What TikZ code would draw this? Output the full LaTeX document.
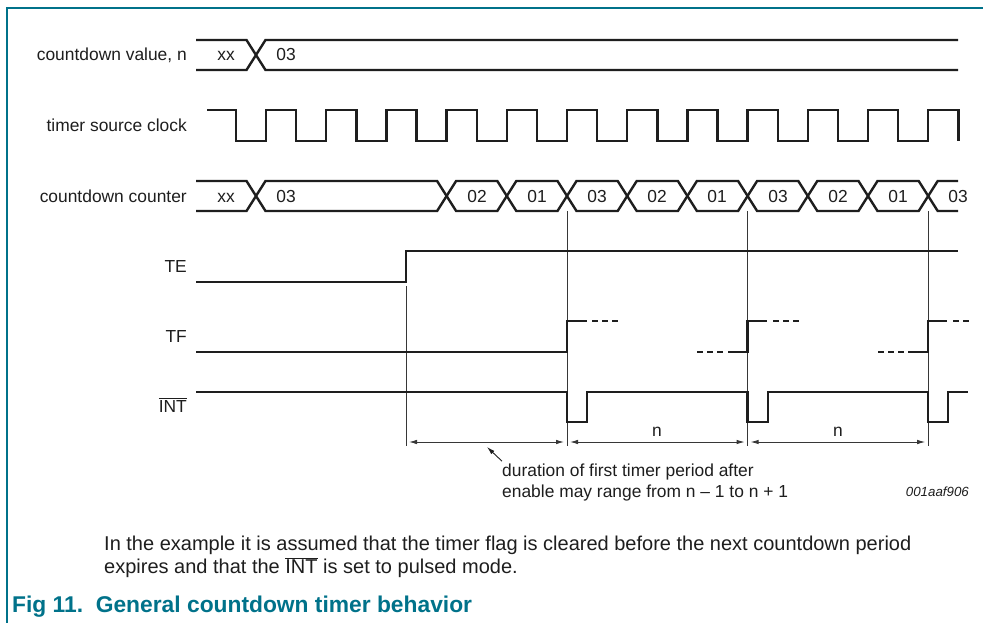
\documentclass[tikz,border=0pt]{standalone}
\usepackage{fontspec}
\setmainfont{Liberation Sans}
\usetikzlibrary{arrows.meta}
\definecolor{nxpteal}{RGB}{0,114,138}
\definecolor{sigcol}{RGB}{30,30,30}
\definecolor{guidecol}{RGB}{55,55,55}
\newcommand{\lblsize}{\fontsize{17.4}{20}\selectfont}
\newcommand{\capsize}{\fontsize{20}{23}\selectfont}
\begin{document}
\begin{tikzpicture}[x=1pt,y=-1pt,
  sig/.style={draw=sigcol,line width=2.4pt,line join=miter},
  guide/.style={draw=guidecol,line width=0.9pt},
  dim/.style={draw=guidecol,line width=0.9pt,{Latex[length=8pt,width=4.5pt]}-{Latex[length=8pt,width=4.5pt]}},
  lbl/.style={anchor=base east,inner sep=0pt,font=\lblsize,text=sigcol},
  val/.style={anchor=base,inner sep=0pt,font=\lblsize,text=sigcol},
  txt/.style={anchor=base west,inner sep=0pt,font=\lblsize,text=sigcol},
  captxt/.style={anchor=base west,inner sep=0pt,font=\capsize,text=sigcol},
  fdash/.style={draw=sigcol,line width=2.4pt,dash pattern=on 6pt off 4pt}]
\useasboundingbox (0,0) rectangle (983,623);
\fill[white] (0,0) rectangle (983,623);
% frame
\draw[nxpteal,line width=1.3pt] (7,623) -- (7,8) -- (983,8);

% labels
\node[lbl] (lv) at (187,61) {countdown value, n};
\node[lbl] (lc) at (187,132) {timer source clock};
\node[lbl] (lk) at (187,202) {countdown counter};
\node[lbl] (lte) at (187,272) {TE};
\node[lbl] (ltf) at (187,342) {TF};
\node[lbl] (lint) at (187,412) {\(\overline{\mbox{INT}}\)};

% countdown value row
\draw[sig] (196,40) -- (246.5,40) -- (265.5,70) -- (958,70);
\draw[sig] (196,70) -- (246.5,70) -- (265.5,40) -- (958,40);
\node[val] (vxx) at (226,61) {xx};
\node[val] (v03) at (286,61) {03};

% clock
\draw[sig] (207,110) foreach \k in {0,...,11} { -- ({236+60.2*\k},110) -- ({236+60.2*\k},141) -- ({266+60.2*\k},141) -- ({266+60.2*\k},110) } -- (958.4,110) -- (958.4,141);

% countdown counter
\draw[sig] (196,181) -- (246.5,181) -- (265.5,211) -- (437.1,211) -- (456.1,181) -- (497.3,181) -- (516.3,211) -- (557.5,211) -- (576.5,181) -- (617.7,181) -- (636.7,211) -- (677.9,211) -- (696.9,181) -- (738.1,181) -- (757.1,211) -- (798.3,211) -- (817.3,181) -- (858.5,181) -- (877.5,211) -- (918.7,211) -- (937.7,181) -- (958,181);
\draw[sig] (196,211) -- (246.5,211) -- (265.5,181) -- (437.1,181) -- (456.1,211) -- (497.3,211) -- (516.3,181) -- (557.5,181) -- (576.5,211) -- (617.7,211) -- (636.7,181) -- (677.9,181) -- (696.9,211) -- (738.1,211) -- (757.1,181) -- (798.3,181) -- (817.3,211) -- (858.5,211) -- (877.5,181) -- (918.7,181) -- (937.7,211) -- (958,211);
\node[val] (kxx) at (226,202) {xx};
\node[val] (k03a) at (286,202) {03};
\node[val] (k02a) at (477,202) {02};
\node[val] (k01a) at (537,202) {01};
\node[val] (k03b) at (597,202) {03};
\node[val] (k02b) at (657,202) {02};
\node[val] (k01b) at (717,202) {01};
\node[val] (k03c) at (778,202) {03};
\node[val] (k02c) at (838,202) {02};
\node[val] (k01c) at (898,202) {01};
\node[val] (k03d) at (958,202) {03};

% guide lines
\draw[guide] (406,286) -- (406,446);
\draw[guide] (567,211) -- (567,446);
\draw[guide] (747.6,211) -- (747.6,446);
\draw[guide] (928.2,211) -- (928.2,446);

% TE
\draw[sig] (196,282) -- (406,282) -- (406,251) -- (958,251);

% TF
\draw[sig] (196,352) -- (567,352) -- (567,321) -- (587,321);
\draw[fdash] (592,321) -- (618,321);
\draw[fdash] (697,352) -- (723,352);
\draw[sig] (728,352) -- (747.6,352) -- (747.6,321) -- (767,321);
\draw[fdash] (773,321) -- (799,321);
\draw[fdash] (878,352) -- (904,352);
\draw[sig] (908,352) -- (928.2,352) -- (928.2,321) -- (947,321);
\draw[fdash] (953,321) -- (970,321);

% INT
\draw[sig] (196,392) -- (567,392) -- (567,422) -- (587,422) -- (587,392) -- (747.6,392) -- (747.6,422) -- (768,422) -- (768,392) -- (928.2,392) -- (928.2,422) -- (948,422) -- (948,392) -- (968,392);

% dimension arrows
\coordinate (d0) at (409,442);
\coordinate (d1a) at (564,442);
\coordinate (d1b) at (570,442);
\coordinate (d2a) at (744.6,442);
\coordinate (d2b) at (750.6,442);
\coordinate (d3) at (925.2,442);
\draw[dim] (d0) -- (d1a);
\draw[dim] (d1b) -- (d2a);
\draw[dim] (d2b) -- (d3);
\node[val] (n1) at (657,436) {n};
\node[val] (n2) at (838,436) {n};

% pointer note
\node[txt] (note1) at (502,476) {duration of first timer period after};
\node[txt] (note2) at (502,497) {enable may range from n -- 1 to n + 1};
\coordinate (ptip) at (487,447);
\draw[draw=sigcol,line width=0.9pt,-{Latex[length=8pt,width=4.5pt]}] (note1.north west) ++(0,-2) coordinate (pstart) (pstart) -- (ptip);
\node[anchor=base east,inner sep=0pt,font=\fontsize{13.3}{15}\selectfont\itshape,text=sigcol] (fid) at (969,496) {001aaf906};

% caption
\node[captxt] (cap1) at (104,550) {In the example it is assumed that the timer flag is cleared before the next countdown period};
\node[captxt] (cap2) at (104,573) {expires and that the \(\overline{\mbox{INT}}\) is set to pulsed mode.};
\node[anchor=base west,inner sep=0pt,font=\fontsize{22.8}{26}\selectfont\bfseries,text=nxpteal] (title) at (12,612) {Fig 11.\ \ General countdown timer behavior};
\end{tikzpicture}
\end{document}
